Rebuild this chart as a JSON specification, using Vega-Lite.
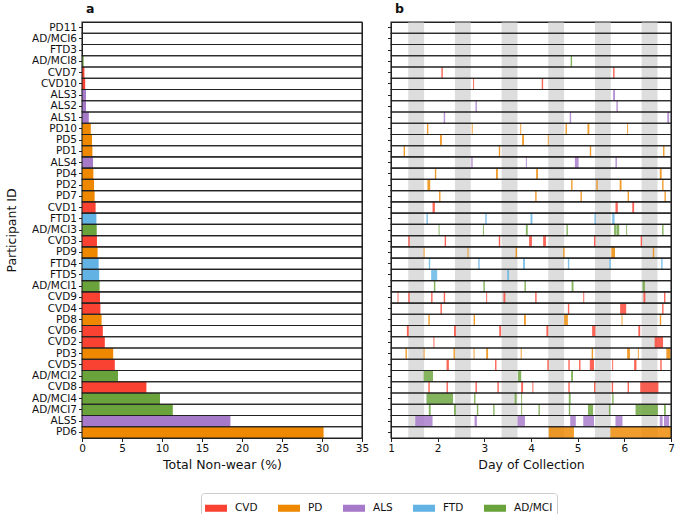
{
  "$schema": "https://vega.github.io/schema/vega-lite/v6.json",
  "background": "white",
  "padding": {"left": 5, "top": 2, "right": 0, "bottom": 0},
  "datasets": {
    "totals": [
      {"p": "PD11", "g": "PD", "v": 0},
      {"p": "AD/MCI6", "g": "AD/MCI", "v": 0},
      {"p": "FTD3", "g": "FTD", "v": 0},
      {"p": "AD/MCI8", "g": "AD/MCI", "v": 0.2},
      {"p": "CVD7", "g": "CVD", "v": 0.3},
      {"p": "CVD10", "g": "CVD", "v": 0.4},
      {"p": "ALS3", "g": "ALS", "v": 0.5},
      {"p": "ALS2", "g": "ALS", "v": 0.5},
      {"p": "ALS1", "g": "ALS", "v": 0.85},
      {"p": "PD10", "g": "PD", "v": 1.1},
      {"p": "PD5", "g": "PD", "v": 1.25},
      {"p": "PD1", "g": "PD", "v": 1.3},
      {"p": "ALS4", "g": "ALS", "v": 1.38},
      {"p": "PD4", "g": "PD", "v": 1.42},
      {"p": "PD2", "g": "PD", "v": 1.5},
      {"p": "PD7", "g": "PD", "v": 1.58},
      {"p": "CVD1", "g": "CVD", "v": 1.7},
      {"p": "FTD1", "g": "FTD", "v": 1.8},
      {"p": "AD/MCI3", "g": "AD/MCI", "v": 1.84},
      {"p": "CVD3", "g": "CVD", "v": 1.87},
      {"p": "PD9", "g": "PD", "v": 1.95},
      {"p": "FTD4", "g": "FTD", "v": 2.08},
      {"p": "FTD5", "g": "FTD", "v": 2.15},
      {"p": "AD/MCI1", "g": "AD/MCI", "v": 2.2},
      {"p": "CVD9", "g": "CVD", "v": 2.25},
      {"p": "CVD4", "g": "CVD", "v": 2.3},
      {"p": "PD8", "g": "PD", "v": 2.45},
      {"p": "CVD6", "g": "CVD", "v": 2.6},
      {"p": "CVD2", "g": "CVD", "v": 2.85},
      {"p": "PD3", "g": "PD", "v": 3.9},
      {"p": "CVD5", "g": "CVD", "v": 4.1},
      {"p": "AD/MCI2", "g": "AD/MCI", "v": 4.5},
      {"p": "CVD8", "g": "CVD", "v": 8.05},
      {"p": "AD/MCI4", "g": "AD/MCI", "v": 9.75},
      {"p": "AD/MCI7", "g": "AD/MCI", "v": 11.35},
      {"p": "ALS5", "g": "ALS", "v": 18.55},
      {"p": "PD6", "g": "PD", "v": 30.2}
    ],
    "nights": [
      {"s": 1.37, "e": 1.71}, {"s": 2.37, "e": 2.71}, {"s": 3.37, "e": 3.71},
      {"s": 4.37, "e": 4.71}, {"s": 5.37, "e": 5.71}, {"s": 6.37, "e": 6.71}
    ],
    "segments": [
      {"p": "AD/MCI8", "g": "AD/MCI", "s": 4.85, "e": 4.88},
      {"p": "CVD7", "g": "CVD", "s": 2.08, "e": 2.11},
      {"p": "CVD7", "g": "CVD", "s": 5.76, "e": 5.79},
      {"p": "CVD10", "g": "CVD", "s": 2.76, "e": 2.78},
      {"p": "CVD10", "g": "CVD", "s": 4.23, "e": 4.26},
      {"p": "ALS3", "g": "ALS", "s": 5.76, "e": 5.8},
      {"p": "ALS2", "g": "ALS", "s": 2.81, "e": 2.84},
      {"p": "ALS2", "g": "ALS", "s": 5.83, "e": 5.86},
      {"p": "ALS1", "g": "ALS", "s": 2.13, "e": 2.16},
      {"p": "ALS1", "g": "ALS", "s": 4.83, "e": 4.86},
      {"p": "ALS1", "g": "ALS", "s": 6.92, "e": 6.96},
      {"p": "PD10", "g": "PD", "s": 1.77, "e": 1.8},
      {"p": "PD10", "g": "PD", "s": 2.73, "e": 2.75},
      {"p": "PD10", "g": "PD", "s": 3.77, "e": 3.79},
      {"p": "PD10", "g": "PD", "s": 4.74, "e": 4.77},
      {"p": "PD10", "g": "PD", "s": 5.21, "e": 5.25},
      {"p": "PD10", "g": "PD", "s": 6.06, "e": 6.08},
      {"p": "PD5", "g": "PD", "s": 2.05, "e": 2.09},
      {"p": "PD5", "g": "PD", "s": 3.81, "e": 3.85},
      {"p": "PD5", "g": "PD", "s": 4.36, "e": 4.38},
      {"p": "PD1", "g": "PD", "s": 1.27, "e": 1.3},
      {"p": "PD1", "g": "PD", "s": 3.31, "e": 3.34},
      {"p": "PD1", "g": "PD", "s": 5.26, "e": 5.29},
      {"p": "PD1", "g": "PD", "s": 6.83, "e": 6.86},
      {"p": "ALS4", "g": "ALS", "s": 2.72, "e": 2.75},
      {"p": "ALS4", "g": "ALS", "s": 3.89, "e": 3.91},
      {"p": "ALS4", "g": "ALS", "s": 4.94, "e": 5.02},
      {"p": "ALS4", "g": "ALS", "s": 5.81, "e": 5.84},
      {"p": "PD4", "g": "PD", "s": 1.94, "e": 1.97},
      {"p": "PD4", "g": "PD", "s": 3.25, "e": 3.29},
      {"p": "PD4", "g": "PD", "s": 4.11, "e": 4.15},
      {"p": "PD4", "g": "PD", "s": 6.76, "e": 6.8},
      {"p": "PD2", "g": "PD", "s": 1.78, "e": 1.84},
      {"p": "PD2", "g": "PD", "s": 4.86, "e": 4.89},
      {"p": "PD2", "g": "PD", "s": 5.4, "e": 5.43},
      {"p": "PD2", "g": "PD", "s": 5.9, "e": 5.94},
      {"p": "PD2", "g": "PD", "s": 6.81, "e": 6.84},
      {"p": "PD7", "g": "PD", "s": 2.03, "e": 2.06},
      {"p": "PD7", "g": "PD", "s": 4.09, "e": 4.12},
      {"p": "PD7", "g": "PD", "s": 5.06, "e": 5.09},
      {"p": "PD7", "g": "PD", "s": 6.07, "e": 6.1},
      {"p": "PD7", "g": "PD", "s": 6.86, "e": 6.89},
      {"p": "CVD1", "g": "CVD", "s": 1.89, "e": 1.94},
      {"p": "CVD1", "g": "CVD", "s": 5.81, "e": 5.86},
      {"p": "CVD1", "g": "CVD", "s": 6.17, "e": 6.21},
      {"p": "FTD1", "g": "FTD", "s": 1.76, "e": 1.79},
      {"p": "FTD1", "g": "FTD", "s": 3.02, "e": 3.05},
      {"p": "FTD1", "g": "FTD", "s": 3.99, "e": 4.03},
      {"p": "FTD1", "g": "FTD", "s": 5.36, "e": 5.39},
      {"p": "FTD1", "g": "FTD", "s": 5.74, "e": 5.79},
      {"p": "AD/MCI3", "g": "AD/MCI", "s": 2.02, "e": 2.04},
      {"p": "AD/MCI3", "g": "AD/MCI", "s": 2.97, "e": 2.99},
      {"p": "AD/MCI3", "g": "AD/MCI", "s": 3.89, "e": 3.93},
      {"p": "AD/MCI3", "g": "AD/MCI", "s": 4.76, "e": 4.79},
      {"p": "AD/MCI3", "g": "AD/MCI", "s": 5.78, "e": 5.82},
      {"p": "AD/MCI3", "g": "AD/MCI", "s": 5.83, "e": 5.89},
      {"p": "AD/MCI3", "g": "AD/MCI", "s": 6.04, "e": 6.06},
      {"p": "AD/MCI3", "g": "AD/MCI", "s": 6.81, "e": 6.84},
      {"p": "CVD3", "g": "CVD", "s": 1.37, "e": 1.4},
      {"p": "CVD3", "g": "CVD", "s": 2.15, "e": 2.18},
      {"p": "CVD3", "g": "CVD", "s": 3.31, "e": 3.34},
      {"p": "CVD3", "g": "CVD", "s": 3.96, "e": 4.02},
      {"p": "CVD3", "g": "CVD", "s": 4.26, "e": 4.32},
      {"p": "CVD3", "g": "CVD", "s": 5.35, "e": 5.38},
      {"p": "CVD3", "g": "CVD", "s": 6.35, "e": 6.38},
      {"p": "PD9", "g": "PD", "s": 1.7, "e": 1.72},
      {"p": "PD9", "g": "PD", "s": 2.64, "e": 2.66},
      {"p": "PD9", "g": "PD", "s": 3.67, "e": 3.7},
      {"p": "PD9", "g": "PD", "s": 4.69, "e": 4.72},
      {"p": "PD9", "g": "PD", "s": 5.72, "e": 5.8},
      {"p": "PD9", "g": "PD", "s": 6.61, "e": 6.64},
      {"p": "FTD4", "g": "FTD", "s": 1.81, "e": 1.84},
      {"p": "FTD4", "g": "FTD", "s": 2.87, "e": 2.9},
      {"p": "FTD4", "g": "FTD", "s": 3.83, "e": 3.87},
      {"p": "FTD4", "g": "FTD", "s": 4.79, "e": 4.82},
      {"p": "FTD4", "g": "FTD", "s": 5.68, "e": 5.71},
      {"p": "FTD4", "g": "FTD", "s": 6.79, "e": 6.82},
      {"p": "FTD5", "g": "FTD", "s": 1.86, "e": 1.99},
      {"p": "FTD5", "g": "FTD", "s": 3.49, "e": 3.53},
      {"p": "AD/MCI1", "g": "AD/MCI", "s": 1.92, "e": 1.95},
      {"p": "AD/MCI1", "g": "AD/MCI", "s": 2.98, "e": 3.01},
      {"p": "AD/MCI1", "g": "AD/MCI", "s": 3.86, "e": 3.89},
      {"p": "AD/MCI1", "g": "AD/MCI", "s": 4.87, "e": 4.91},
      {"p": "AD/MCI1", "g": "AD/MCI", "s": 6.39, "e": 6.44},
      {"p": "CVD9", "g": "CVD", "s": 1.14, "e": 1.16},
      {"p": "CVD9", "g": "CVD", "s": 1.37, "e": 1.4},
      {"p": "CVD9", "g": "CVD", "s": 1.86, "e": 1.89},
      {"p": "CVD9", "g": "CVD", "s": 2.13, "e": 2.16},
      {"p": "CVD9", "g": "CVD", "s": 3.04, "e": 3.06},
      {"p": "CVD9", "g": "CVD", "s": 3.41, "e": 3.45},
      {"p": "CVD9", "g": "CVD", "s": 4.09, "e": 4.12},
      {"p": "CVD9", "g": "CVD", "s": 5.12, "e": 5.14},
      {"p": "CVD9", "g": "CVD", "s": 6.41, "e": 6.45},
      {"p": "CVD9", "g": "CVD", "s": 6.85, "e": 6.88},
      {"p": "CVD4", "g": "CVD", "s": 2.06, "e": 2.09},
      {"p": "CVD4", "g": "CVD", "s": 4.79, "e": 4.82},
      {"p": "CVD4", "g": "CVD", "s": 5.91, "e": 6.04},
      {"p": "CVD4", "g": "CVD", "s": 6.81, "e": 6.84},
      {"p": "PD8", "g": "PD", "s": 1.8, "e": 1.83},
      {"p": "PD8", "g": "PD", "s": 2.77, "e": 2.8},
      {"p": "PD8", "g": "PD", "s": 3.85, "e": 3.89},
      {"p": "PD8", "g": "PD", "s": 4.71, "e": 4.79},
      {"p": "PD8", "g": "PD", "s": 5.94, "e": 5.96},
      {"p": "PD8", "g": "PD", "s": 6.76, "e": 6.79},
      {"p": "CVD6", "g": "CVD", "s": 1.34, "e": 1.38},
      {"p": "CVD6", "g": "CVD", "s": 2.35, "e": 2.39},
      {"p": "CVD6", "g": "CVD", "s": 3.32, "e": 3.36},
      {"p": "CVD6", "g": "CVD", "s": 4.33, "e": 4.37},
      {"p": "CVD6", "g": "CVD", "s": 5.31, "e": 5.38},
      {"p": "CVD6", "g": "CVD", "s": 6.3, "e": 6.34},
      {"p": "CVD2", "g": "CVD", "s": 1.91, "e": 1.93},
      {"p": "CVD2", "g": "CVD", "s": 6.65, "e": 6.83},
      {"p": "PD3", "g": "PD", "s": 1.31, "e": 1.34},
      {"p": "PD3", "g": "PD", "s": 1.7, "e": 1.72},
      {"p": "PD3", "g": "PD", "s": 2.34, "e": 2.37},
      {"p": "PD3", "g": "PD", "s": 2.77, "e": 2.79},
      {"p": "PD3", "g": "PD", "s": 3.04, "e": 3.08},
      {"p": "PD3", "g": "PD", "s": 3.78, "e": 3.8},
      {"p": "PD3", "g": "PD", "s": 5.3, "e": 5.33},
      {"p": "PD3", "g": "PD", "s": 6.06, "e": 6.12},
      {"p": "PD3", "g": "PD", "s": 6.29, "e": 6.31},
      {"p": "PD3", "g": "PD", "s": 6.9, "e": 6.99},
      {"p": "CVD5", "g": "CVD", "s": 2.19, "e": 2.24},
      {"p": "CVD5", "g": "CVD", "s": 3.23, "e": 3.26},
      {"p": "CVD5", "g": "CVD", "s": 4.35, "e": 4.38},
      {"p": "CVD5", "g": "CVD", "s": 4.8, "e": 4.83},
      {"p": "CVD5", "g": "CVD", "s": 5.03, "e": 5.06},
      {"p": "CVD5", "g": "CVD", "s": 5.26, "e": 5.35},
      {"p": "CVD5", "g": "CVD", "s": 5.74, "e": 5.76},
      {"p": "CVD5", "g": "CVD", "s": 6.21, "e": 6.26},
      {"p": "CVD5", "g": "CVD", "s": 6.77, "e": 6.8},
      {"p": "AD/MCI2", "g": "AD/MCI", "s": 1.7, "e": 1.9},
      {"p": "AD/MCI2", "g": "AD/MCI", "s": 3.72, "e": 3.79},
      {"p": "AD/MCI2", "g": "AD/MCI", "s": 4.86, "e": 4.9},
      {"p": "CVD8", "g": "CVD", "s": 1.8, "e": 1.83},
      {"p": "CVD8", "g": "CVD", "s": 2.19, "e": 2.22},
      {"p": "CVD8", "g": "CVD", "s": 2.81, "e": 2.84},
      {"p": "CVD8", "g": "CVD", "s": 3.28, "e": 3.31},
      {"p": "CVD8", "g": "CVD", "s": 3.79, "e": 3.83},
      {"p": "CVD8", "g": "CVD", "s": 4.03, "e": 4.05},
      {"p": "CVD8", "g": "CVD", "s": 4.8, "e": 4.83},
      {"p": "CVD8", "g": "CVD", "s": 5.35, "e": 5.38},
      {"p": "CVD8", "g": "CVD", "s": 5.73, "e": 5.76},
      {"p": "CVD8", "g": "CVD", "s": 6.07, "e": 6.1},
      {"p": "CVD8", "g": "CVD", "s": 6.34, "e": 6.73},
      {"p": "AD/MCI4", "g": "AD/MCI", "s": 1.76, "e": 2.33},
      {"p": "AD/MCI4", "g": "AD/MCI", "s": 2.78, "e": 2.81},
      {"p": "AD/MCI4", "g": "AD/MCI", "s": 3.65, "e": 3.69},
      {"p": "AD/MCI4", "g": "AD/MCI", "s": 3.79, "e": 3.81},
      {"p": "AD/MCI4", "g": "AD/MCI", "s": 4.81, "e": 4.85},
      {"p": "AD/MCI4", "g": "AD/MCI", "s": 5.74, "e": 5.77},
      {"p": "AD/MCI7", "g": "AD/MCI", "s": 1.81, "e": 1.85},
      {"p": "AD/MCI7", "g": "AD/MCI", "s": 2.35, "e": 2.39},
      {"p": "AD/MCI7", "g": "AD/MCI", "s": 2.84, "e": 2.87},
      {"p": "AD/MCI7", "g": "AD/MCI", "s": 3.19, "e": 3.22},
      {"p": "AD/MCI7", "g": "AD/MCI", "s": 3.79, "e": 3.81},
      {"p": "AD/MCI7", "g": "AD/MCI", "s": 4.16, "e": 4.19},
      {"p": "AD/MCI7", "g": "AD/MCI", "s": 4.81, "e": 4.84},
      {"p": "AD/MCI7", "g": "AD/MCI", "s": 5.22, "e": 5.33},
      {"p": "AD/MCI7", "g": "AD/MCI", "s": 5.67, "e": 5.7},
      {"p": "AD/MCI7", "g": "AD/MCI", "s": 6.24, "e": 6.72},
      {"p": "AD/MCI7", "g": "AD/MCI", "s": 6.85, "e": 6.89},
      {"p": "ALS5", "g": "ALS", "s": 1.52, "e": 1.89},
      {"p": "ALS5", "g": "ALS", "s": 2.79, "e": 2.84},
      {"p": "ALS5", "g": "ALS", "s": 3.71, "e": 3.87},
      {"p": "ALS5", "g": "ALS", "s": 4.84, "e": 4.96},
      {"p": "ALS5", "g": "ALS", "s": 5.12, "e": 5.35},
      {"p": "ALS5", "g": "ALS", "s": 5.81, "e": 5.96},
      {"p": "ALS5", "g": "ALS", "s": 6.76, "e": 6.82},
      {"p": "ALS5", "g": "ALS", "s": 6.85, "e": 6.96},
      {"p": "PD6", "g": "PD", "s": 4.38, "e": 4.92},
      {"p": "PD6", "g": "PD", "s": 5.7, "e": 7.0}
    ]
  },
  "config": {
    "font": "DejaVu Sans",
    "view": {"stroke": "#222", "strokeWidth": 1},
    "axis": {
      "domainColor": "#222", "tickColor": "#222", "labelColor": "#111", "titleColor": "#111",
      "labelFont": "DejaVu Sans", "titleFont": "DejaVu Sans",
      "labelFontSize": 10.5, "titleFontSize": 12.5, "titleFontWeight": "normal",
      "tickSize": 3.5, "grid": false, "labelPadding": 2, "labelOverlap": false
    },
    "title": {"font": "DejaVu Sans", "fontSize": 12.5, "fontWeight": "bold", "anchor": "start", "frame": "group", "color": "#111", "offset": 6, "dx": 4}
  },
  "spacing": 16,
  "hconcat": [
    {
      "width": 280,
      "height": 416,
      "title": "a",
      "layer": [
        {
          "data": {"name": "totals"},
          "mark": {"type": "bar"},
          "encoding": {
            "y": {
              "field": "p", "type": "nominal",
              "sort": ["PD11","AD/MCI6","FTD3","AD/MCI8","CVD7","CVD10","ALS3","ALS2","ALS1","PD10","PD5","PD1","ALS4","PD4","PD2","PD7","CVD1","FTD1","AD/MCI3","CVD3","PD9","FTD4","FTD5","AD/MCI1","CVD9","CVD4","PD8","CVD6","CVD2","PD3","CVD5","AD/MCI2","CVD8","AD/MCI4","AD/MCI7","ALS5","PD6"],
              "scale": {"paddingInner": 0, "paddingOuter": 0},
              "axis": {"title": "Participant ID", "titlePadding": 13}
            },
            "x": {
              "field": "v", "type": "quantitative",
              "scale": {"domain": [0, 35], "nice": false},
              "axis": {"title": "Total Non-wear (%)", "values": [0, 5, 10, 15, 20, 25, 30, 35], "labelOverlap": false, "labelFlush": false, "titlePadding": 4}
            },
            "color": {
              "field": "g", "type": "nominal",
              "scale": {"domain": ["CVD", "PD", "ALS", "FTD", "AD/MCI"], "range": ["#fa4232", "#ee8800", "#a679c9", "#62b3e4", "#6aa33c"]},
              "legend": {
                "title": null, "orient": "none", "direction": "horizontal",
                "legendX": 119, "legendY": 471,
                "strokeColor": "#cccccc", "cornerRadius": 3, "padding": 4,
                "symbolType": "M-1,-0.32H1V0.32H-1Z", "symbolSize": 484, "symbolStrokeWidth": 0, "symbolOpacity": 1,
                "labelFont": "DejaVu Sans", "labelFontSize": 10.5, "labelColor": "#111", "labelOffset": 8, "columnPadding": 20,
                "encode": {"symbols": {"update": {"opacity": {"value": 1}, "fillOpacity": {"value": 1}}}}
              }
            }
          }
        },
        {
          "data": {"name": "totals"},
          "mark": {"type": "rect", "filled": false, "stroke": "#222", "strokeWidth": 1.1},
          "encoding": {
            "y": {"field": "p", "type": "nominal", "sort": ["PD11","AD/MCI6","FTD3","AD/MCI8","CVD7","CVD10","ALS3","ALS2","ALS1","PD10","PD5","PD1","ALS4","PD4","PD2","PD7","CVD1","FTD1","AD/MCI3","CVD3","PD9","FTD4","FTD5","AD/MCI1","CVD9","CVD4","PD8","CVD6","CVD2","PD3","CVD5","AD/MCI2","CVD8","AD/MCI4","AD/MCI7","ALS5","PD6"]},
            "x": {"datum": 0, "type": "quantitative", "axis": {"title": "Total Non-wear (%)", "values": [0, 5, 10, 15, 20, 25, 30, 35], "labelOverlap": false, "labelFlush": false, "titlePadding": 4}},
            "x2": {"datum": 35}
          }
        }
      ]
    },
    {
      "width": 280,
      "height": 416,
      "title": "b",
      "layer": [
        {
          "data": {"name": "nights"},
          "mark": {"type": "rect", "color": "#dddddd"},
          "encoding": {
            "x": {"field": "s", "type": "quantitative", "scale": {"domain": [1, 7], "nice": false}, "axis": {"title": "Day of Collection", "values": [1, 2, 3, 4, 5, 6, 7], "labelOverlap": false, "labelFlush": false, "titlePadding": 4}},
            "x2": {"field": "e"}
          }
        },
        {
          "data": {"name": "segments"},
          "mark": {"type": "rect", "opacity": 0.82},
          "encoding": {
            "y": {
              "field": "p", "type": "nominal",
              "scale": {"domain": ["PD11","AD/MCI6","FTD3","AD/MCI8","CVD7","CVD10","ALS3","ALS2","ALS1","PD10","PD5","PD1","ALS4","PD4","PD2","PD7","CVD1","FTD1","AD/MCI3","CVD3","PD9","FTD4","FTD5","AD/MCI1","CVD9","CVD4","PD8","CVD6","CVD2","PD3","CVD5","AD/MCI2","CVD8","AD/MCI4","AD/MCI7","ALS5","PD6"], "paddingInner": 0, "paddingOuter": 0},
              "axis": {"title": null, "labels": false}
            },
            "x": {"field": "s", "type": "quantitative", "axis": {"title": "Day of Collection", "values": [1, 2, 3, 4, 5, 6, 7], "labelOverlap": false, "labelFlush": false, "titlePadding": 4}},
            "x2": {"field": "e"},
            "color": {"field": "g", "type": "nominal", "scale": {"domain": ["CVD", "PD", "ALS", "FTD", "AD/MCI"], "range": ["#fa4232", "#ee8800", "#a679c9", "#62b3e4", "#6aa33c"]}}
          }
        },
        {
          "data": {"name": "totals"},
          "mark": {"type": "rect", "filled": false, "stroke": "#222", "strokeWidth": 1.1},
          "encoding": {
            "y": {"field": "p", "type": "nominal"},
            "x": {"datum": 1, "type": "quantitative", "axis": {"title": "Day of Collection", "values": [1, 2, 3, 4, 5, 6, 7], "labelOverlap": false, "labelFlush": false, "titlePadding": 4}},
            "x2": {"datum": 7}
          }
        }
      ]
    }
  ]
}
